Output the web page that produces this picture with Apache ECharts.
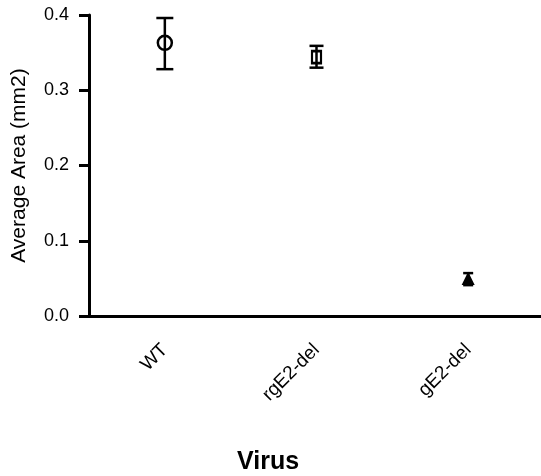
<!DOCTYPE html>
<html>
<head>
<meta charset="utf-8">
<script src="https://cdn.jsdelivr.net/npm/echarts@6/dist/echarts.min.js"></script>
<style>
  html, body { margin: 0; padding: 0; background: #fff; }
  #chart { width: 541px; height: 476px; }
</style>
</head>
<body>
<div id="chart"></div>
<script>
// data
var categories = ['WT', 'rgE2-del', 'gE2-del'];
var means = [0.363, 0.344, 0.049];
var lowers = [0.328, 0.330, 0.041];
var uppers = [0.396, 0.359, 0.057];

var symbols = ['circle', 'rect', 'triangle'];
var symbolSizes = [14, [9, 12], 9];
var capWidths = [17, 14, 10];

var myChart = echarts.init(document.getElementById('chart'));

var errData = categories.map(function (c, i) {
    return [i, lowers[i], uppers[i], capWidths[i]];
});
var pointData = categories.map(function (c, i) {
    return {
        value: [i, means[i]],
        symbol: symbols[i],
        symbolSize: symbolSizes[i],
        itemStyle: i == 2 ? { color: '#000' } : {}
    };
});

var option = {
    animation: false,
    textStyle: { fontFamily: 'Liberation Sans, Arial, sans-serif' },
    grid: { left: 89, top: 15, width: 455, bottom: 160, outerBoundsMode: 'none', containLabel: false },
    xAxis: {
        type: 'category',
        data: categories,
        axisLine: { lineStyle: { color: '#000', width: 3 } },
        axisTick: { alignWithLabel: true, length: 10, lineStyle: { color: '#000', width: 3 } },
        axisLabel: { rotate: 45, margin: 31, color: '#000', fontSize: 19 }
    },
    yAxis: {
        type: 'value',
        min: 0,
        max: 0.4,
        interval: 0.1,
        name: 'Average Area (mm2)',
        nameLocation: 'middle',
        nameGap: 59,
        nameTextStyle: { color: '#000', fontSize: 21 },
        splitLine: { show: false },
        axisLine: { show: true, lineStyle: { color: '#000', width: 3 } },
        axisTick: { show: true, length: 10, lineStyle: { color: '#000', width: 3 } },
        axisLabel: {
            color: '#000', fontSize: 18, margin: 20,
            formatter: function (v) { return v.toFixed(1); }
        }
    },
    graphic: [{
        type: 'text',
        left: 237,
        top: 450,
        style: { text: 'Virus', font: 'bold 25px Liberation Sans, Arial, sans-serif', fill: '#000' }
    }],
    series: [
        {
            type: 'scatter',
            data: pointData,
            itemStyle: { color: 'rgba(0,0,0,0)', borderColor: '#000', borderWidth: 2.5, opacity: 1 },
            emphasis: { disabled: true },
            z: 2
        },
        {
            type: 'custom',
            data: errData,
            renderItem: function (params, api) {
                var x = api.value(0);
                var lo = api.coord([x, api.value(1)]);
                var hi = api.coord([x, api.value(2)]);
                var half = api.value(3) / 2;
                var st = { stroke: '#000', lineWidth: 2.5, fill: null };
                return {
                    type: 'group',
                    children: [
                        { type: 'line', shape: { x1: lo[0], y1: lo[1], x2: hi[0], y2: hi[1] }, style: st },
                        { type: 'line', shape: { x1: lo[0] - half, y1: lo[1], x2: lo[0] + half, y2: lo[1] }, style: st },
                        { type: 'line', shape: { x1: hi[0] - half, y1: hi[1], x2: hi[0] + half, y2: hi[1] }, style: st }
                    ]
                };
            },
            z: 3
        }
    ]
};

myChart.setOption(option);
</script>
</body>
</html>
